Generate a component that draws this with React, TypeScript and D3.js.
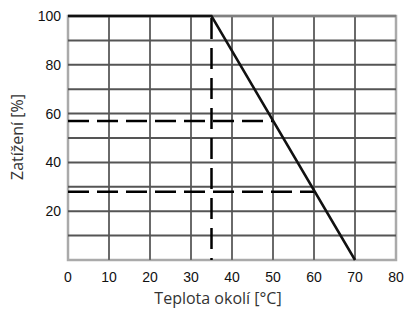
import React from 'react';
import * as d3 from 'd3';

const xTicks = [0, 10, 20, 30, 40, 50, 60, 70, 80];
const yTicks = [20, 40, 60, 80, 100];
const yGrid = [10, 20, 30, 40, 50, 60, 70, 80, 90];

// derating curve: temperature [°C] vs load [%]
const curveTemp = [0, 35, 70];
const curveLoad = [100, 100, 0];

// reading guides
const guideLoads = [57, 28];
const guideTemp = 35;

const App = () => {
  const width = 404;
  const height = 309;
  const margin = { top: 16, right: 8, bottom: 49, left: 68 };

  const x = d3.scaleLinear().domain([0, 80]).range([margin.left, width - margin.right]);
  const y = d3.scaleLinear().domain([0, 100]).range([height - margin.bottom, margin.top]);

  const curve = d3.line<number>()
    .x((d, i) => x(curveTemp[i]))
    .y(d => y(d));

  // where a horizontal guide meets the sloped part of the curve
  const tempAt = (load: number) => 35 + (100 - load) * 35 / 100;

  const titleFont = 'Open Sans, sans-serif';

  return (
    <svg width={width} height={height} style={{ position: 'absolute', left: 0, top: 0 }}>
      <rect x={0} y={0} width={width} height={height} fill="#fff" />
      {/* frame */}
      <rect x={x(0)} y={y(100)} width={x(80) - x(0)} height={y(0) - y(100)}
        fill="none" stroke="#aaa" strokeWidth={2.5} />
      {/* grid */}
      {xTicks.slice(1, -1).map(t => (
        <line key={'gx' + t} x1={x(t)} x2={x(t)} y1={y(0)} y2={y(100)} stroke="#6a6a6a" strokeWidth={2} />
      ))}
      {yGrid.map(t => (
        <line key={'gy' + t} x1={x(0)} x2={x(80)} y1={y(t)} y2={y(t)} stroke="#555" strokeWidth={2} />
      ))}
      <line x1={x(0)} x2={x(80)} y1={y(100)} y2={y(100)} stroke="#808080" strokeWidth={2.5} />
      {/* guides */}
      {guideLoads.map(l => (
        <line key={'gl' + l} x1={x(0)} x2={x(tempAt(l))} y1={y(l)} y2={y(l)}
          stroke="#000" strokeWidth={2.5} strokeDasharray="21 8" />
      ))}
      <line x1={x(guideTemp)} x2={x(guideTemp)} y1={y(100) + 2} y2={y(0)}
        stroke="#000" strokeWidth={2.5} strokeDasharray="21 9" />
      {/* curve */}
      <path d={curve(curveLoad) || ''} fill="none" stroke="#111" strokeWidth={2.5} />
      {/* tick labels */}
      {xTicks.map(t => (
        <text key={'tx' + t} x={x(t)} y={282} textAnchor="middle"
          fontFamily="Liberation Sans, Arial, sans-serif" fontSize={14} fill="#111">{t}</text>
      ))}
      {yTicks.map(t => (
        <text key={'ty' + t} x={61} y={y(t) + 5} textAnchor="end"
          fontFamily="Liberation Sans, Arial, sans-serif" fontSize={14} fill="#111">{t}</text>
      ))}
      <text x={218} y={304} textAnchor="middle"
        fontFamily={titleFont} fontSize={16} fill="#333">Teplota okolí [°C]</text>
      <text transform={`translate(23, 137) rotate(-90)`} textAnchor="middle"
        fontFamily={titleFont} fontSize={16} fill="#333">Zatížení [%]</text>
    </svg>
  );
};

export default App;
